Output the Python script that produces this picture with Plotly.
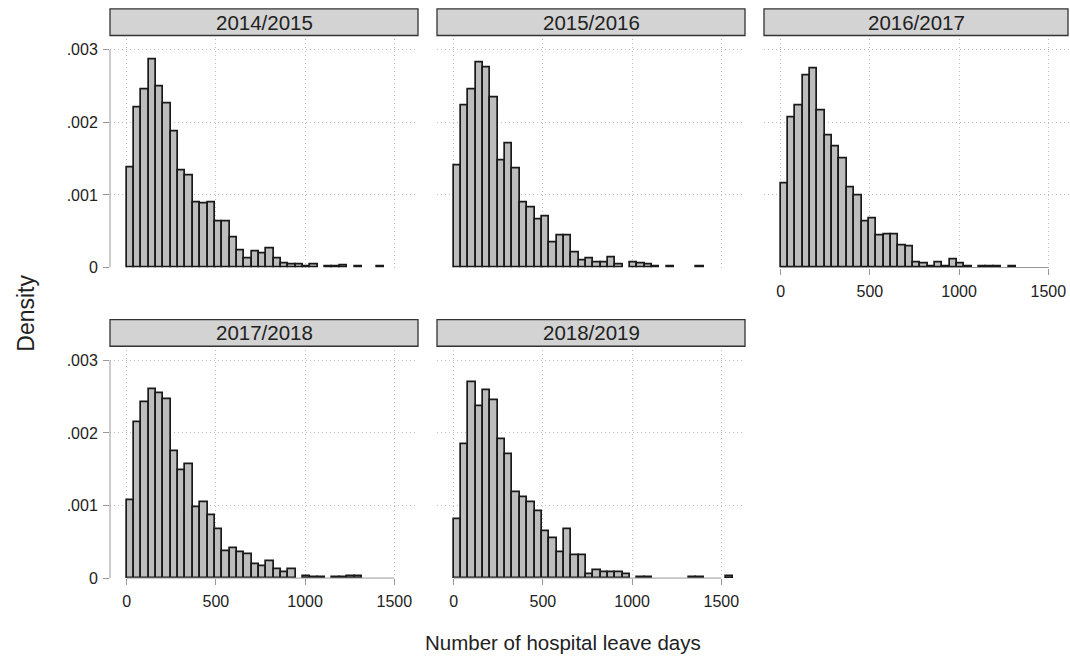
import plotly.graph_objects as go

# ---------------- data ----------------
seasons = ["2014/2015", "2015/2016", "2016/2017", "2017/2018", "2018/2019"]
bin_width = 41.2  # days per histogram bin (bins start at 0)

d1415 = [0.00138, 0.00220, 0.00246, 0.00287, 0.00249, 0.00226, 0.00187, 0.00134, 0.00127, 0.00090,
         0.00088, 0.00090, 0.00063, 0.00063, 0.00041, 0.00024, 0.00012, 0.00022, 0.00020, 0.00026,
         0.00012, 0.00005, 0.00004, 0.00004, 0.00002, 0.00004, 0, 0.00001, 0.00001, 0.00003,
         0, 0.00001, 0, 0, 0.00001]
d1516 = [0.00140, 0.00223, 0.00246, 0.00283, 0.00275, 0.00235, 0.00147, 0.00171, 0.00136, 0.00089,
         0.00083, 0.00066, 0.00070, 0.00035, 0.00044, 0.00044, 0.00021, 0.00010, 0.00012, 0.00007,
         0.00007, 0.00014, 0.00004, 0, 0.00007, 0.00006, 0.00004, 0.00001, 0, 0.00002,
         0, 0, 0, 0.00001]
d1617 = [0.00116, 0.00207, 0.00224, 0.00265, 0.00274, 0.00217, 0.00182, 0.00167, 0.00150, 0.00110,
         0.00099, 0.00064, 0.00068, 0.00044, 0.00045, 0.00045, 0.00031, 0.00029, 0.00007, 0.00005,
         0.00002, 0.00007, 0.00002, 0.00011, 0.00005, 0.00002, 0, 0.00001, 0.00002, 0.00001,
         0, 0.00001]
d1718 = [0.00107, 0.00215, 0.00242, 0.00260, 0.00255, 0.00246, 0.00175, 0.00149, 0.00157, 0.00098,
         0.00105, 0.00086, 0.00068, 0.00037, 0.00041, 0.00035, 0.00033, 0.00019, 0.00016, 0.00023,
         0.00012, 0.00008, 0.00012, 0, 0.00003, 0.00001, 0.00001, 0, 0.00001, 0.00001,
         0.00002, 0.00003]
d1819 = [0.00081, 0.00184, 0.00270, 0.00237, 0.00259, 0.00245, 0.00191, 0.00171, 0.00118, 0.00111,
         0.00105, 0.00092, 0.00065, 0.00055, 0.00035, 0.00067, 0.00032, 0.00032, 0.00005, 0.00011,
         0.00008, 0.00008, 0.00008, 0.00006, 0, 0.00001, 0.00001, 0, 0, 0,
         0, 0, 0.00001, 0.00001, 0, 0, 0, 0.00002]
densities = [d1415, d1516, d1617, d1718, d1819]

x_ticks = [0, 500, 1000, 1500]
y_ticks = [0, 0.001, 0.002, 0.003]
y_ticktext = ["0", ".001", ".002", ".003"]

# ---------------- layout geometry (pixels) ----------------
W, H = 1070, 664
FONT = "Liberation Sans, Arial, sans-serif"
cols_px = [(110, 418), (437, 745), (764, 1070)]
rows_px = [(40, 271.2), (355, 586)]
strip_rows = [(9, 36), (324, 351)]
px_per_day = 0.1784
px_per_dens = 73570.0
x_min = -93.5
GRID = dict(showgrid=True, gridcolor="#bfbfbf", griddash="1px,3px", gridwidth=1)

panels = [(0, 0), (0, 1), (0, 2), (1, 0), (1, 1)]

fig = go.Figure()
layout = dict(
    width=W, height=H, margin=dict(l=0, r=0, t=0, b=0),
    paper_bgcolor="white", plot_bgcolor="white", showlegend=False,
    font=dict(family=FONT, color="#222222"), bargap=0,
)
shapes, annotations = [], []

for i, ((r, c), dens) in enumerate(zip(panels, densities)):
    n = "" if i == 0 else str(i + 1)
    x0p, x1p = cols_px[c]
    t, b = rows_px[r]
    xr = [x_min, x_min + (x1p - x0p) / px_per_day]
    yr = [0, (b - t) / px_per_dens]
    show_x = (r == 1) or (c == 2)
    show_y = (c == 0)
    layout["xaxis" + n] = dict(
        domain=[x0p / W, x1p / W], range=xr, anchor="y" + n,
        tickvals=x_ticks, showticklabels=show_x, ticks="outside" if show_x else "",
        ticklen=6, tickcolor="#999999", tickwidth=1, ticklabelstandoff=3,
        zeroline=False, showline=False, tickfont=dict(size=16, family=FONT, color="#222"),
        fixedrange=True, **GRID,
    )
    layout["yaxis" + n] = dict(
        domain=[1 - b / H, 1 - t / H], range=yr, anchor="x" + n,
        tickvals=y_ticks, ticktext=y_ticktext, showticklabels=show_y,
        ticks="outside" if show_y else "", ticklen=6, tickcolor="#999999", tickwidth=1,
        ticklabelstandoff=2,
        zeroline=False, showline=False, tickfont=dict(size=16, family=FONT, color="#222"),
        fixedrange=True, **GRID,
    )
    xs = [(k + 0.5) * bin_width for k in range(len(dens))]
    ys = [v if v > 0 else None for v in dens]
    fig.add_trace(go.Bar(
        x=xs, y=ys, width=bin_width, xaxis="x" + n, yaxis="y" + n,
        marker=dict(color="#bdbdbd", line=dict(color="#1a1a1a", width=1.7)),
        hoverinfo="skip",
    ))
    # axis lines spanning the tick range only
    if show_y:
        shapes.append(dict(type="line", xref="x" + n + " domain", yref="y" + n,
                           x0=0, x1=0, y0=y_ticks[0], y1=y_ticks[-1],
                           line=dict(color="#999999", width=1)))
    if show_x:
        shapes.append(dict(type="line", xref="x" + n, yref="y" + n + " domain",
                           x0=x_ticks[0], x1=x_ticks[-1], y0=0, y1=0,
                           line=dict(color="#999999", width=1)))
    # strip header
    st, sb = strip_rows[r]
    sx1 = min(x1p, W - 2)
    shapes.append(dict(type="rect", xref="paper", yref="paper",
                       x0=x0p / W, x1=sx1 / W, y0=1 - sb / H, y1=1 - st / H,
                       fillcolor="#d3d3d3", line=dict(color="#333333", width=1.3), layer="above"))
    annotations.append(dict(text=seasons[i], xref="paper", yref="paper",
                            x=(x0p + sx1) / 2 / W, y=1 - (st + sb) / 2 / H,
                            showarrow=False, xanchor="center", yanchor="middle",
                            font=dict(size=20.5, family=FONT, color="#222")))

annotations.append(dict(text="Density", xref="paper", yref="paper", x=26 / W, y=1 - 318 / H,
                        textangle=-90, showarrow=False, xanchor="center", yanchor="middle",
                        font=dict(size=23, family=FONT, color="#222")))
annotations.append(dict(text="Number of hospital leave days", xref="paper", yref="paper",
                        x=563 / W, y=1 - 651 / H, showarrow=False, xanchor="center",
                        yanchor="middle", font=dict(size=20.5, family=FONT, color="#222")))

layout["shapes"] = shapes
layout["annotations"] = annotations
fig.update_layout(**layout)
fig.write_html("out.html")
